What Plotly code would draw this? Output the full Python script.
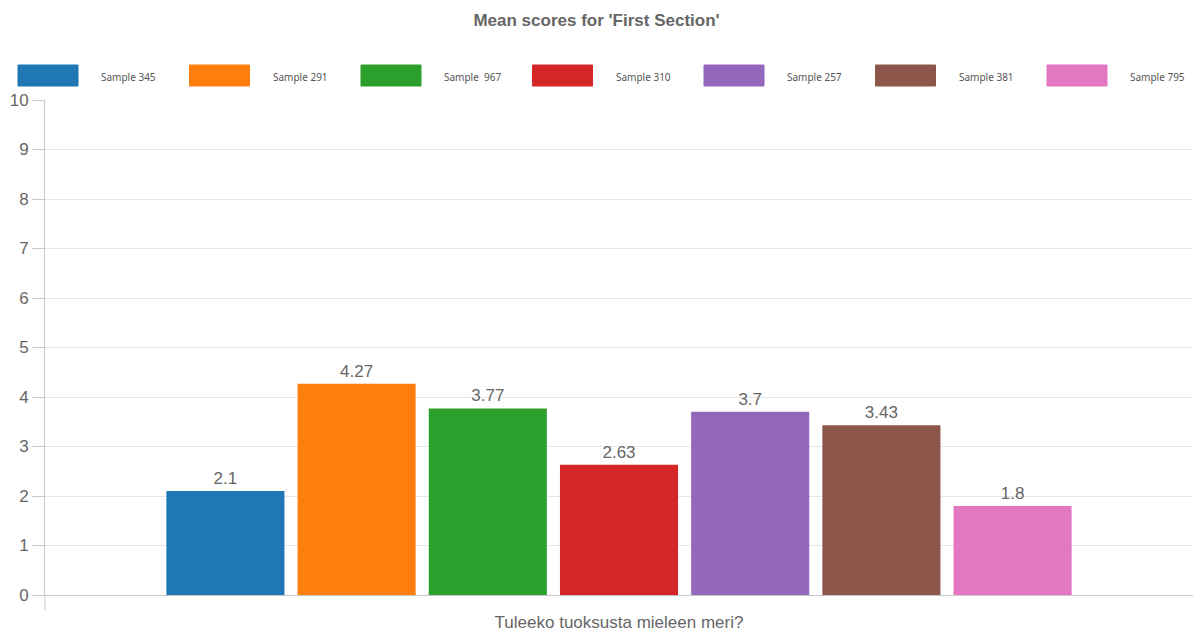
import plotly.graph_objects as go

# ---- data ----
category = ["Tuleeko tuoksusta mieleen meri?"]
series_names = ["Sample 345", "Sample 291", "Sample  967", "Sample 310", "Sample 257", "Sample 381", "Sample 795"]
series_values = [2.1, 4.27, 3.77, 2.63, 3.7, 3.43, 1.8]
series_colors = ["#1f77b4", "#ff7f0e", "#2ca02c", "#d62728", "#9467bd", "#8c564b", "#e377c2"]
y_ticks = list(range(0, 11))

W, H = 1193, 631
ML, MR, MT, MB = 45, 0, 100, 36
PW, PH = W - ML - MR, H - MT - MB

def px_x(x):
    return (x - ML) / PW

def px_y(y):
    return (H - MB - y) / PH

fig = go.Figure()
for name, val, col in zip(series_names, series_values, series_colors):
    fig.add_trace(go.Bar(
        x=category, y=[val], name=name,
        marker=dict(color=col, line=dict(width=0)),
        text=[f"{val:g}"], textposition="outside",
        textfont=dict(family="Arial", size=17, color="#666666"),
        cliponaxis=False, showlegend=False,
    ))

# custom legend with wide swatches
shapes = []
annotations = []
for i, (name, col) in enumerate(zip(series_names, series_colors)):
    x0 = 18 + i * 171.5
    shapes.append(dict(type="rect", xref="paper", yref="paper",
                       x0=px_x(x0), x1=px_x(x0 + 60), y0=px_y(86), y1=px_y(65),
                       fillcolor=col, line=dict(width=1, color=col), layer="above"))
    annotations.append(dict(xref="paper", yref="paper", x=px_x(x0 + 81), y=px_y(77),
                            text=name, showarrow=False, xanchor="left", yanchor="middle",
                            font=dict(family="Noto Sans", size=10, color="#555555")))

# small category boundary tick below the x axis at the left edge
shapes.append(dict(type="line", xref="paper", yref="paper",
                   x0=0, x1=0, y0=px_y(595), y1=px_y(610),
                   line=dict(color="#c8c8c8", width=1)))

fig.update_layout(
    width=W, height=H,
    margin=dict(l=ML, r=MR, t=MT, b=MB),
    paper_bgcolor="white", plot_bgcolor="white",
    title=dict(text="<b>Mean scores for 'First Section'</b>", x=0.5, xanchor="center",
               y=1 - 20 / H, yanchor="middle",
               font=dict(family="Arial", size=17, color="#666666")),
    barmode="group", bargap=0.2, bargroupgap=0.1,
    shapes=shapes, annotations=annotations,
    xaxis=dict(showline=True, linecolor="#c8c8c8", linewidth=1,
               ticks="", ticklabelstandoff=12,
               tickfont=dict(family="Arial", size=17, color="#666666"),
               showgrid=False, range=[-0.5, 0.5], fixedrange=True),
    yaxis=dict(range=[0, 10], tickvals=y_ticks, showline=True, linecolor="#c8c8c8", linewidth=1,
               ticks="outside", ticklen=12, tickcolor="#c8c8c8",
               gridcolor="#e6e6e6", gridwidth=1, zeroline=False,
               tickfont=dict(family="Arial", size=17, color="#666666")),
    font=dict(family="Arial", color="#666666"),
)

fig.write_html("out.html")
